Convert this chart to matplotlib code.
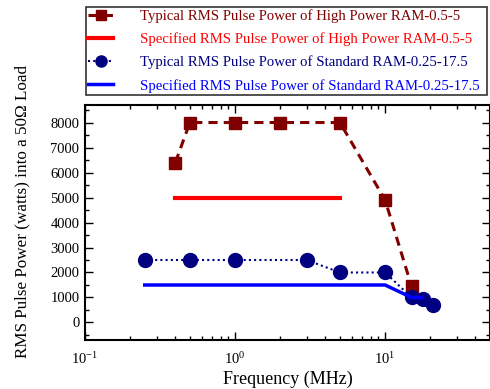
import matplotlib
matplotlib.use("Agg")
import matplotlib.pyplot as plt
from matplotlib.ticker import MultipleLocator, LogLocator

plt.rcParams["font.family"] = ["Liberation Serif", "DejaVu Serif"]
plt.rcParams["mathtext.fontset"] = "custom"
plt.rcParams["mathtext.rm"] = "Liberation Serif"

# typical pulse power, high power model
high_freq = [0.4, 0.5, 1, 2, 5, 10, 15]
high_power = [6400, 8000, 8000, 8000, 8000, 4900, 1450]

# specified pulse power, high power model
high_spec_freq = [0.4, 5]
high_spec_power = [5000, 5000]

# typical pulse power, standard model
std_freq = [0.25, 0.5, 1, 3, 5, 10, 15, 18, 21]
std_power = [2500, 2500, 2500, 2500, 2000, 2000, 1000, 950, 700]

# specified pulse power, standard model
std_spec_freq = [0.25, 10, 15, 17.5]
std_spec_power = [1500, 1500, 1000, 1000]

fig = plt.figure(figsize=(4.9, 3.89), dpi=100)
ax = fig.add_axes([0.1735, 0.126, 0.8265, 0.604])

l1, = ax.plot(high_freq, high_power, color="#800000", linestyle=(0, (3, 2)),
              linewidth=2.2, marker="s", markersize=9,
              label="Typical RMS Pulse Power of High Power RAM-0.5-5")
l2, = ax.plot(high_spec_freq, high_spec_power, color="#ff0000", linewidth=3,
              label="Specified RMS Pulse Power of High Power RAM-0.5-5")
l3, = ax.plot(std_freq, std_power, color="#000080", linestyle=(0, (1, 1.5)),
              linewidth=1.5, marker="o", markersize=10,
              label="Typical RMS Pulse Power of Standard RAM-0.25-17.5")
l4, = ax.plot(std_spec_freq, std_spec_power, color="#0000ff", linewidth=2.5,
              label="Specified RMS Pulse Power of Standard RAM-0.25-17.5")

ax.set_xscale("log")
ax.set_xlim(0.1, 50)
ax.set_ylim(-700, 8700)
ax.yaxis.set_major_locator(MultipleLocator(1000))
ax.yaxis.set_minor_locator(MultipleLocator(500))
ax.xaxis.set_major_locator(LogLocator(base=10))
ax.xaxis.set_minor_locator(LogLocator(base=10, subs=range(2, 10)))

ax.tick_params(which="both", direction="in", top=True, right=True,
               labelsize=10.5, width=1)
ax.tick_params(which="major", length=6)
ax.tick_params(which="minor", length=3)
ax.tick_params(axis="x", pad=8)
ax.tick_params(axis="y", pad=4)
for s in ax.spines.values():
    s.set_linewidth(1.5)

ax.set_xlabel("Frequency (MHz)", fontsize=13, labelpad=3)
ax.set_ylabel("RMS Pulse Power (watts) into a 50\u03a9 Load", fontsize=12.3)
ax.yaxis.set_label_coords(-0.136, 0.545)

leg = fig.legend(handles=[l1, l2, l3, l4], loc="upper left",
                 bbox_to_anchor=(0.1755, 0.751, 0.818, 0.231), mode="expand",
                 fontsize=10.6, frameon=True, fancybox=False, borderaxespad=0,
                 handlelength=1.7, handletextpad=1.85, labelspacing=0.64,
                 borderpad=0.15, markerscale=0.8)
leg.get_frame().set_edgecolor("black")
leg.get_frame().set_linewidth(1.2)
for txt, line in zip(leg.get_texts(), [l1, l2, l3, l4]):
    txt.set_color(line.get_color())

fig.savefig("out.png", dpi=100)
